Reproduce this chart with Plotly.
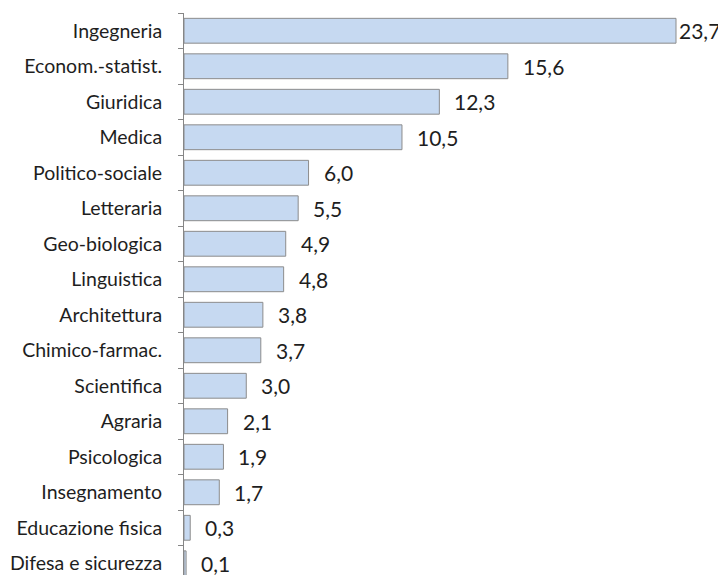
import plotly.graph_objects as go

categories = ["Ingegneria", "Econom.-statist.", "Giuridica", "Medica", "Politico-sociale",
              "Letteraria", "Geo-biologica", "Linguistica", "Architettura", "Chimico-farmac.",
              "Scientifica", "Agraria", "Psicologica", "Insegnamento", "Educazione fisica",
              "Difesa e sicurezza"]
values = [23.7, 15.6, 12.3, 10.5, 6.0, 5.5, 4.9, 4.8, 3.8, 3.7, 3.0, 2.1, 1.9, 1.7, 0.3, 0.1]
value_labels = [f"{v:.1f}".replace(".", ",") for v in values]

FONT = "Lato, Carlito, Calibri, sans-serif"

fig = go.Figure()
fig.add_trace(go.Bar(
    x=values, y=categories, orientation="h",
    width=0.7,
    marker=dict(color="#C6D9F1", line=dict(color="#8C8C8C", width=1)),
    hoverinfo="skip",
))

vmax = max(values)
for cat, v, lab in zip(categories, values, value_labels):
    fig.add_annotation(
        x=v, y=cat, text=lab, showarrow=False, xanchor="left", yanchor="middle",
        xshift=1 if v == vmax else 13, yshift=0,
        font=dict(family=FONT, size=21, color="#1e1e1e"),
    )

# the page body has an 8px margin, so the figure is made 8px smaller
fig.update_layout(
    width=718, height=567,
    margin=dict(l=176, r=23, t=5, b=0),
    paper_bgcolor="white", plot_bgcolor="white",
    showlegend=False,
    xaxis=dict(range=[0, 25], visible=False, fixedrange=True),
    yaxis=dict(
        type="category", categoryorder="array", categoryarray=categories,
        range=[15.33, -0.5],
        showline=True, linecolor="#868686", linewidth=1,
        ticks="outside", ticklen=5, tickcolor="#868686", tickson="boundaries",
        ticklabelstandoff=17, automargin=False,
        showgrid=False, zeroline=False,
        tickfont=dict(family=FONT, size=19.5, color="#1e1e1e"),
    ),
)

fig.write_html("out.html")
